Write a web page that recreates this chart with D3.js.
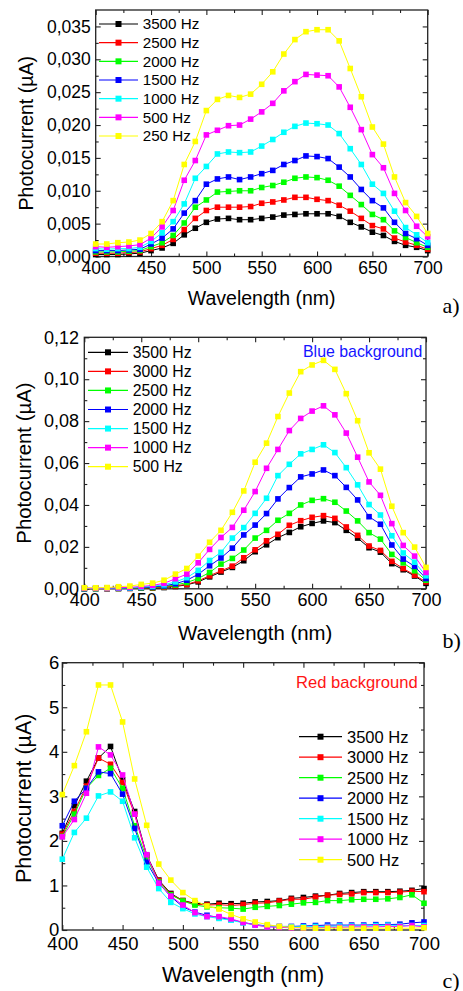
<!DOCTYPE html>
<html>
<head>
<meta charset="utf-8">
<script src="https://cdn.jsdelivr.net/npm/d3@7"></script>
<style>
  html, body { margin: 0; padding: 0; background: #fff; }
  svg { display: block; }
  text { font-family: "Liberation Sans", Arial, sans-serif; fill: #000; }
</style>
</head>
<body>
<svg id="chart" width="463" height="991"></svg>
<script>
// Wavelength grid (nm)
const wavelengths = [400,410,420,430,440,450,460,470,480,490,500,510,520,530,540,550,560,570,580,590,600,610,620,630,640,650,660,670,680,690,700];
const xTicks = [400,450,500,550,600,650,700];
const seriesColors = ["#000000","#ff0000","#00ff00","#0000ff","#00ffff","#ff00ff","#ffff00"];

// Panel a) photocurrent (µA)
const freqsA = ["3500 Hz","2500 Hz","2000 Hz","1500 Hz","1000 Hz","500 Hz","250 Hz"];
const a3500 = [0.0003,0.0003,0.0003,0.0004,0.0005,0.0009,0.0013,0.0020,0.0033,0.0043,0.0052,0.0057,0.0058,0.0056,0.0056,0.0058,0.0060,0.0063,0.0064,0.0065,0.0065,0.0065,0.0061,0.0052,0.0045,0.0037,0.0032,0.0023,0.0017,0.0014,0.0009];
const a2500 = [0.0005,0.0005,0.0005,0.0006,0.0007,0.0012,0.0017,0.0026,0.0041,0.0058,0.0070,0.0075,0.0075,0.0075,0.0076,0.0081,0.0083,0.0086,0.0090,0.0090,0.0087,0.0085,0.0078,0.0069,0.0058,0.0047,0.0042,0.0028,0.0022,0.0017,0.0011];
const a2000 = [0.0007,0.0007,0.0007,0.0008,0.0009,0.0015,0.0021,0.0032,0.0051,0.0075,0.0086,0.0098,0.0099,0.0100,0.0100,0.0105,0.0108,0.0113,0.0119,0.0121,0.0120,0.0116,0.0107,0.0093,0.0079,0.0064,0.0056,0.0039,0.0029,0.0021,0.0014];
const a1500 = [0.0009,0.0009,0.0009,0.0010,0.0011,0.0019,0.0028,0.0042,0.0066,0.0085,0.0110,0.0118,0.0121,0.0117,0.0121,0.0126,0.0131,0.0140,0.0146,0.0153,0.0152,0.0149,0.0136,0.0121,0.0102,0.0085,0.0074,0.0052,0.0035,0.0027,0.0017];
const a1000 = [0.0012,0.0011,0.0012,0.0012,0.0014,0.0023,0.0036,0.0053,0.0080,0.0119,0.0137,0.0156,0.0159,0.0158,0.0159,0.0168,0.0178,0.0189,0.0198,0.0203,0.0202,0.0200,0.0187,0.0164,0.0140,0.0110,0.0096,0.0069,0.0044,0.0033,0.0021];
const a500  = [0.0015,0.0014,0.0015,0.0016,0.0018,0.0028,0.0045,0.0070,0.0116,0.0146,0.0185,0.0192,0.0199,0.0200,0.0209,0.0220,0.0233,0.0252,0.0266,0.0277,0.0276,0.0275,0.0258,0.0227,0.0193,0.0155,0.0135,0.0096,0.0070,0.0046,0.0030];
const a250  = [0.0019,0.0019,0.0021,0.0022,0.0025,0.0035,0.0053,0.0085,0.0140,0.0175,0.0222,0.0239,0.0245,0.0242,0.0247,0.0262,0.0281,0.0308,0.0330,0.0342,0.0345,0.0345,0.0328,0.0286,0.0243,0.0197,0.0171,0.0121,0.0082,0.0061,0.0035];
const yTicksA = [0,0.005,0.010,0.015,0.020,0.025,0.030,0.035];

// Panel b) blue background
const freqsB = ["3500 Hz","3000 Hz","2500 Hz","2000 Hz","1500 Hz","1000 Hz","500 Hz"];
const b3500 = [0.0000,0.0001,0.0001,0.0001,0.0002,0.0003,0.0004,0.0006,0.0011,0.0019,0.0033,0.0057,0.0080,0.0102,0.0134,0.0177,0.0210,0.0244,0.0269,0.0296,0.0312,0.0324,0.0316,0.0279,0.0242,0.0196,0.0175,0.0120,0.0091,0.0061,0.0026];
const b3000 = [0.0001,0.0001,0.0001,0.0002,0.0002,0.0003,0.0005,0.0008,0.0014,0.0021,0.0038,0.0062,0.0086,0.0108,0.0148,0.0186,0.0229,0.0260,0.0303,0.0325,0.0341,0.0349,0.0336,0.0295,0.0255,0.0204,0.0183,0.0131,0.0097,0.0065,0.0033];
const b2500 = [0.0001,0.0001,0.0002,0.0002,0.0003,0.0004,0.0006,0.0011,0.0018,0.0030,0.0049,0.0078,0.0118,0.0145,0.0185,0.0242,0.0279,0.0327,0.0360,0.0400,0.0422,0.0430,0.0413,0.0371,0.0324,0.0268,0.0237,0.0164,0.0124,0.0086,0.0041];
const b2000 = [0.0001,0.0002,0.0002,0.0003,0.0004,0.0006,0.0009,0.0014,0.0024,0.0041,0.0069,0.0110,0.0147,0.0194,0.0257,0.0304,0.0359,0.0429,0.0483,0.0534,0.0548,0.0567,0.0540,0.0484,0.0424,0.0344,0.0308,0.0209,0.0142,0.0107,0.0049];
const b1500 = [0.0002,0.0002,0.0003,0.0004,0.0005,0.0008,0.0012,0.0019,0.0033,0.0053,0.0088,0.0135,0.0174,0.0242,0.0292,0.0360,0.0432,0.0540,0.0594,0.0644,0.0665,0.0687,0.0650,0.0578,0.0496,0.0402,0.0352,0.0253,0.0171,0.0127,0.0062];
const b1000 = [0.0003,0.0003,0.0004,0.0005,0.0007,0.0011,0.0016,0.0026,0.0048,0.0070,0.0124,0.0188,0.0245,0.0293,0.0375,0.0464,0.0575,0.0665,0.0755,0.0813,0.0848,0.0873,0.0830,0.0743,0.0628,0.0510,0.0446,0.0311,0.0207,0.0156,0.0078];
const b500  = [0.0005,0.0005,0.0006,0.0010,0.0013,0.0021,0.0027,0.0041,0.0070,0.0097,0.0156,0.0222,0.0279,0.0365,0.0467,0.0604,0.0695,0.0822,0.0934,0.1036,0.1068,0.1090,0.1047,0.0931,0.0802,0.0649,0.0571,0.0394,0.0268,0.0199,0.0102];
const yTicksB = [0,0.02,0.04,0.06,0.08,0.10,0.12];

// Panel c) red background
const freqsC = ["3500 Hz","3000 Hz","2500 Hz","2000 Hz","1500 Hz","1000 Hz","500 Hz"];
const c3500 = [2.17,2.79,3.34,3.86,4.12,3.37,2.66,1.68,1.12,0.82,0.66,0.60,0.58,0.60,0.59,0.60,0.63,0.64,0.66,0.71,0.73,0.76,0.78,0.82,0.84,0.86,0.86,0.86,0.87,0.89,0.93];
const c3000 = [2.15,2.66,3.23,3.86,3.72,3.31,2.60,1.65,1.11,0.80,0.66,0.58,0.56,0.57,0.55,0.57,0.60,0.61,0.65,0.69,0.69,0.74,0.78,0.80,0.81,0.84,0.84,0.84,0.85,0.87,0.86];
const c2500 = [2.10,2.60,3.18,3.47,3.63,3.18,2.34,1.61,1.08,0.79,0.65,0.56,0.52,0.50,0.49,0.47,0.51,0.53,0.55,0.58,0.61,0.62,0.66,0.66,0.68,0.69,0.69,0.70,0.73,0.79,0.60];
const c2000 = [2.34,2.89,3.18,3.55,3.51,3.05,2.28,1.52,1.05,0.75,0.52,0.40,0.33,0.28,0.23,0.17,0.12,0.09,0.08,0.08,0.09,0.10,0.11,0.11,0.11,0.11,0.12,0.12,0.13,0.16,0.18];
const c1500 = [1.59,2.19,2.51,3.01,3.10,2.89,2.07,1.41,0.93,0.62,0.48,0.36,0.30,0.26,0.22,0.16,0.11,0.08,0.07,0.07,0.07,0.08,0.08,0.09,0.09,0.09,0.10,0.11,0.10,0.10,0.10];
const c1000 = [2.09,2.48,3.07,4.11,3.93,3.48,2.60,1.69,1.05,0.76,0.56,0.39,0.30,0.30,0.25,0.17,0.11,0.07,0.06,0.05,0.05,0.05,0.06,0.06,0.07,0.07,0.07,0.08,0.08,0.10,0.07];
const c500  = [3.04,3.69,4.45,5.50,5.50,4.67,3.39,2.35,1.48,1.12,0.84,0.66,0.54,0.47,0.35,0.25,0.18,0.12,0.08,0.06,0.05,0.04,0.04,0.04,0.04,0.04,0.04,0.04,0.04,0.04,0.05];
const yTicksC = [0,1,2,3,4,5,6];

const comma = d3.formatLocale({decimal: ",", thousands: ".", grouping: [3], currency: ["", ""]});

const svg = d3.select("#chart");

function drawPanel(p) {
  const x = d3.scaleLinear().domain([400, 700]).range([p.left, p.right]);
  const y = d3.scaleLinear().domain(p.yDomain).range([p.bottom, p.top]);
  const g = svg.append("g");

  const fmt = p.fmt;
  // bottom axis: major + minor, ticks pointing inward
  g.append("g").attr("transform", `translate(0,${p.bottom})`)
    .call(d3.axisBottom(x).tickValues(xTicks).tickSize(-5).tickSizeOuter(0).tickPadding(p.xPad))
    .call(s => s.select(".domain").remove())
    .call(s => s.selectAll("text").style("font-size", p.tickFont + "px"));
  g.append("g").attr("transform", `translate(0,${p.bottom})`)
    .call(d3.axisBottom(x).tickValues(d3.range(425, 700, 50)).tickSize(-3).tickSizeOuter(0).tickFormat(""))
    .call(s => s.select(".domain").remove());
  // top axis: ticks only
  g.append("g").attr("transform", `translate(0,${p.top})`)
    .call(d3.axisTop(x).tickValues(xTicks).tickSize(-5).tickSizeOuter(0).tickFormat(""))
    .call(s => s.select(".domain").remove());
  g.append("g").attr("transform", `translate(0,${p.top})`)
    .call(d3.axisTop(x).tickValues(d3.range(425, 700, 50)).tickSize(-3).tickSizeOuter(0).tickFormat(""))
    .call(s => s.select(".domain").remove());
  // left axis with labels
  g.append("g").attr("transform", `translate(${p.left},0)`)
    .call(d3.axisLeft(y).tickValues(p.yTicks).tickSize(-5).tickSizeOuter(0).tickPadding(p.yPad).tickFormat(fmt))
    .call(s => s.select(".domain").remove())
    .call(s => s.selectAll("text").style("font-size", p.tickFont + "px"));
  g.append("g").attr("transform", `translate(${p.left},0)`)
    .call(d3.axisLeft(y).tickValues(p.yMinor).tickSize(-3).tickSizeOuter(0).tickFormat(""))
    .call(s => s.select(".domain").remove());
  // right axis: ticks only
  g.append("g").attr("transform", `translate(${p.right},0)`)
    .call(d3.axisRight(y).tickValues(p.yTicks).tickSize(-5).tickSizeOuter(0).tickFormat(""))
    .call(s => s.select(".domain").remove());
  g.append("g").attr("transform", `translate(${p.right},0)`)
    .call(d3.axisRight(y).tickValues(p.yMinor).tickSize(-3).tickSizeOuter(0).tickFormat(""))
    .call(s => s.select(".domain").remove());
  g.selectAll(".tick line").attr("stroke", "#222").attr("stroke-width", 1.1);

  // frame
  g.append("rect")
    .attr("x", p.left).attr("y", p.top)
    .attr("width", p.right - p.left).attr("height", p.bottom - p.top)
    .attr("fill", "none").attr("stroke", "#222").attr("stroke-width", 1.3);

  // series
  const clipId = "clip" + p.id;
  svg.append("clipPath").attr("id", clipId).append("rect")
    .attr("x", p.left - 4).attr("y", p.top).attr("width", p.right - p.left + 8).attr("height", p.bottom - p.top + 4);
  const plot = g.append("g").attr("clip-path", `url(#${clipId})`);
  const line = d3.line().x((d, i) => x(wavelengths[i])).y(d => y(d));
  const ms = 5.6;
  p.series.forEach((vals, k) => {
    const col = seriesColors[k];
    plot.append("path").datum(vals).attr("d", line)
      .attr("fill", "none").attr("stroke", col).attr("stroke-width", 1);
    plot.append("g").selectAll("rect").data(vals).join("rect")
      .attr("x", (d, i) => x(wavelengths[i]) - ms / 2)
      .attr("y", d => y(d) - ms / 2)
      .attr("width", ms).attr("height", ms)
      .attr("fill", col);
  });

  // legend
  const lg = g.append("g");
  p.names.forEach((name, k) => {
    const yy = p.legY + k * p.legStep;
    lg.append("line").attr("x1", p.legX1).attr("x2", p.legX2).attr("y1", yy).attr("y2", yy)
      .attr("stroke", seriesColors[k]).attr("stroke-width", 1.2);
    lg.append("rect").attr("x", (p.legX1 + p.legX2) / 2 - 3).attr("y", yy - 3)
      .attr("width", 6).attr("height", 6).attr("fill", seriesColors[k]);
    lg.append("text").attr("x", p.legTx).attr("y", yy).attr("dy", "0.36em")
      .style("font-size", p.legFont + "px").text(name);
  });

  // axis titles
  g.append("text").attr("x", (p.left + p.right) / 2).attr("y", p.xTitleY)
    .attr("text-anchor", "middle").style("font-size", p.titleFont + "px").text("Wavelength (nm)");
  g.append("text").attr("transform", `translate(${p.yTitleX},${(p.top + p.bottom) / 2 + p.yTitleShift}) rotate(-90)`)
    .attr("text-anchor", "middle").style("font-size", p.titleFont + "px").text("Photocurrent (\u00b5A)");

  // panel letter
  g.append("text").attr("x", 442.5).attr("y", p.letterY)
    .style("font-family", "'Liberation Serif', 'Times New Roman', serif").style("font-size", "22px")
    .text(p.letter);

  if (p.note) {
    g.append("text").attr("x", p.note.x).attr("y", p.note.y)
      .style("font-size", p.note.size + "px").style("fill", p.note.color).text(p.note.text);
  }
}

drawPanel({
  id: "a", left: 95.7, right: 427.7, top: 10, bottom: 256.5,
  yDomain: [0, 0.0375], yTicks: yTicksA, yMinor: d3.range(0.0025, 0.0375, 0.005),
  fmt: comma.format(".3f"), tickFont: 17.5, xPad: 5, yPad: 5,
  series: [a3500, a2500, a2000, a1500, a1000, a500, a250], names: freqsA,
  legY: 24, legStep: 18.67, legX1: 99, legX2: 138, legTx: 142.7, legFont: 15.2,
  titleFont: 19.5, xTitleY: 304.5, yTitleX: 33, yTitleShift: 0,
  letter: "a)", letterY: 313
});

drawPanel({
  id: "b", left: 84.3, right: 426, top: 337.3, bottom: 588.8,
  yDomain: [0, 0.12], yTicks: yTicksB, yMinor: d3.range(0.01, 0.12, 0.02),
  fmt: comma.format(".2f"), tickFont: 18, xPad: 4.5, yPad: 5.3,
  series: [b3500, b3000, b2500, b2000, b1500, b1000, b500], names: freqsB,
  legY: 352.3, legStep: 19.07, legX1: 88, legX2: 128, legTx: 132.7, legFont: 15.8,
  titleFont: 20.4, xTitleY: 640, yTitleX: 31, yTitleShift: 0,
  letter: "b)", letterY: 647.5,
  note: { text: "Blue background", x: 303, y: 356.5, size: 15.9, color: "#1414ff" }
});

drawPanel({
  id: "c", left: 62.3, right: 424, top: 662.7, bottom: 930,
  yDomain: [0, 6], yTicks: yTicksC, yMinor: d3.range(0.5, 6, 1),
  fmt: d3.format("d"), tickFont: 18.5, xPad: 6.5, yPad: 3,
  series: [c3500, c3000, c2500, c2000, c1500, c1000, c500], names: freqsC,
  legY: 736.7, legStep: 20.5, legX1: 299, legX2: 342, legTx: 347, legFont: 16.5,
  titleFont: 21.4, xTitleY: 982, yTitleX: 31, yTitleShift: 2,
  letter: "c)", letterY: 988,
  note: { text: "Red background", x: 296, y: 687.7, size: 16.6, color: "#ff1414" }
});
</script>
</body>
</html>
